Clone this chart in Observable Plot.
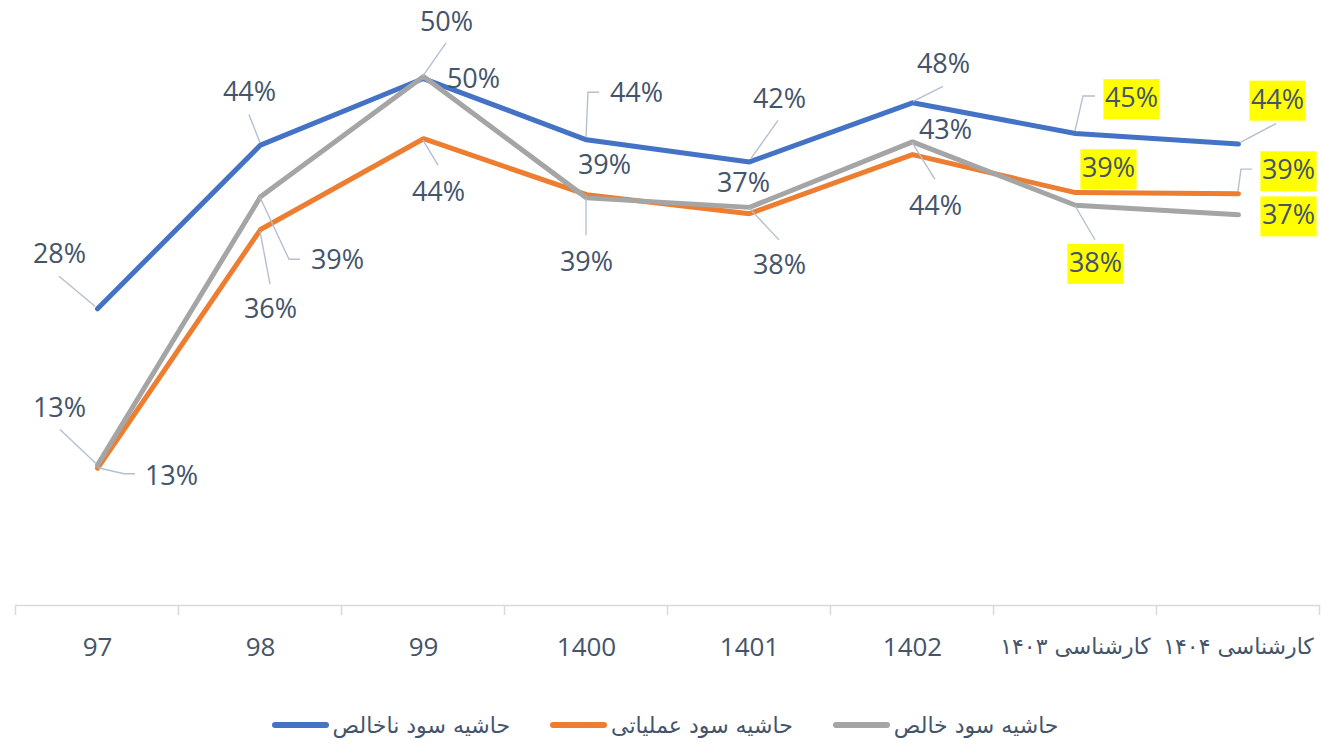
<!DOCTYPE html>
<html><head><meta charset="utf-8">
<script src="https://cdn.jsdelivr.net/npm/d3@7"></script>
<script src="https://cdn.jsdelivr.net/npm/@observablehq/plot@0.6"></script>
<style>
body{margin:0;background:#fff;}
#chart{width:1322px;height:690px;}
#legend{display:flex;justify-content:center;align-items:center;gap:40px;margin-top:18px;font-family:"DejaVu Sans",sans-serif;font-size:22px;color:#44546A;height:34px;width:1322px;padding-left:8px;box-sizing:border-box}
.item{display:flex;align-items:center;gap:4px}
.sw{width:57px;height:6px;border-radius:3px;display:inline-block}
</style></head><body>
<div id="chart"></div><div id="legend"></div>
<script>
const categories = ["97","98","99","1400","1401","1402","کارشناسی ۱۴۰۳","کارشناسی ۱۴۰۴"];
const seriesNames = ["حاشیه سود ناخالص","حاشیه سود عملیاتی","حاشیه سود خالص"];
const grossMargin     = [0.281,0.436,0.499,0.441,0.420,0.476,0.447,0.437];
const operatingMargin = [0.130,0.356,0.442,0.389,0.371,0.427,0.391,0.390];
const netMargin       = [0.133,0.387,0.501,0.386,0.377,0.439,0.379,0.370];
const highlightedCategories = ["کارشناسی ۱۴۰۳","کارشناسی ۱۴۰۴"];
const colors = ["#4472C4","#ED7D31","#A5A5A5"];

// label placement (pixel offsets from each point), like Excel's hand-placed data labels
const labelOffsets = [
  [[-38,-54],[-11,-53],[50,1],[50,-46],[30,-63],[31,-38],[56,-35],[39,-44]],
  [[74,8],[10,80],[15,54],[18,-29],[-6,-30],[33,-24],[33,-24],[50,-23]],
  [[-38,-57],[77,64],[23,-54],[0,64],[30,58],[23,64],[20,58],[50,1]]
];
const leaderOffsets = [
  [[[-2,-2],[-38,-32]],[[0,-2],[-11,-30]],null,[[0,-2],[2,-47],[13,-47]],[[2,-3],[29,-41]],[[1,-1],[31,-16]],[[0,-2],[8,-37],[20,-37]],[[2,-1],[38,-20]]],
  [[[1,0],[27,6],[38,6]],[[0,2],[10,55]],[[0,2],[15,27]],null,null,null,null,[[0,-2],[3,-24],[14,-24]]],
  [[[-1,-1],[-37,-35]],[[0,1],[29,63],[40,63]],[[0,0],[23,-33]],[[0,1],[0,38]],[[0,1],[30,33]],[[0,1],[23,38]],[[0,1],[20,35]],null]
];

const seriesValues = [grossMargin, operatingMargin, netMargin];
const rows = seriesValues.flatMap((vals, s) => vals.map((v, i) => ({series: seriesNames[s], s, i, cat: categories[i], value: v})));
const fmt = d3.format(".0%");

const labelMarks = rows.map(r => Plot.text([r], {
  x: "cat", y: "value", text: d => fmt(d.value),
  dx: labelOffsets[r.s][r.i][0], dy: labelOffsets[r.s][r.i][1],
  fontSize: 27, fontFamily: "'Open Sans', sans-serif", fill: "#44546A",
  textAnchor: "middle", lineAnchor: "middle",
  ariaDescription: highlightedCategories.includes(r.cat) ? "highlight" : "normal"
}));

const chart = Plot.plot({
  width: 1322, height: 690,
  marginLeft: 15, marginRight: 3, marginTop: 0, marginBottom: 85,
  style: {color: "#44546A", background: "white", overflow: "visible"},
  x: {type: "point", domain: categories, padding: 0.5, label: null},
  y: {domain: [0, 0.5729], axis: null},
  marks: [
    Plot.ruleY([0], {stroke: "#D9D9D9", strokeWidth: 1.5}),
    Plot.axisX(categories.filter(c => !highlightedCategories.includes(c)), {tickSize: 0, tickPadding: 32, fontSize: 26, fontFamily: "'Open Sans', sans-serif", label: null}),
    Plot.axisX(highlightedCategories, {tickSize: 0, tickPadding: 33, fontSize: 22, fontFamily: "'DejaVu Sans', sans-serif", label: null}),
    ...seriesNames.map((name, s) => Plot.line(rows.filter(r => r.s === s), {
      x: "cat", y: "value", stroke: colors[s], strokeWidth: 5, strokeLinejoin: "round", strokeLinecap: "round"
    })),
    ...labelMarks
  ]
});
document.getElementById("chart").append(chart);

// overlay: category tick marks, leader lines, highlight boxes (positions via Plot's scales)
const xs = chart.scale("x"), ys = chart.scale("y");
const svg = d3.select(chart);
const step = xs.apply(categories[1]) - xs.apply(categories[0]);
const y0 = ys.apply(0);
const tg = svg.append("g");
for (let i = 0; i <= categories.length; i++) {
  const x = xs.apply(categories[0]) - step / 2 + i * step;
  tg.append("line").attr("x1", x).attr("x2", x).attr("y1", y0).attr("y2", y0 + 10)
    .attr("stroke", "#D9D9D9").attr("stroke-width", 1.5);
}
const lg = svg.append("g").attr("fill", "none").attr("stroke", "#B4C0D0").attr("stroke-width", 1.4);
rows.forEach(r => {
  const path = leaderOffsets[r.s][r.i];
  if (!path) return;
  const px = xs.apply(r.cat), py = ys.apply(r.value);
  lg.append("path").attr("d", d3.line()(path.map(([dx, dy]) => [px + dx, py + dy])));
});
svg.selectAll("g[aria-description='highlight'] text").each(function() {
  const bb = this.getBBox();
  const rect = document.createElementNS("http://www.w3.org/2000/svg", "rect");
  rect.setAttribute("x", bb.x - 1.5); rect.setAttribute("y", bb.y + 1);
  rect.setAttribute("width", bb.width + 3); rect.setAttribute("height", bb.height + 3);
  rect.setAttribute("fill", "#FFFF00");
  const tr = this.getAttribute("transform");
  if (tr) rect.setAttribute("transform", tr);
  this.parentNode.insertBefore(rect, this);
});

// legend
const legend = d3.select("#legend");
seriesNames.forEach((name, s) => {
  const it = legend.append("span").attr("class", "item");
  it.append("span").attr("class", "sw").style("background", colors[s]);
  it.append("span").attr("dir", "rtl").text(name);
});
</script>
</body></html>
